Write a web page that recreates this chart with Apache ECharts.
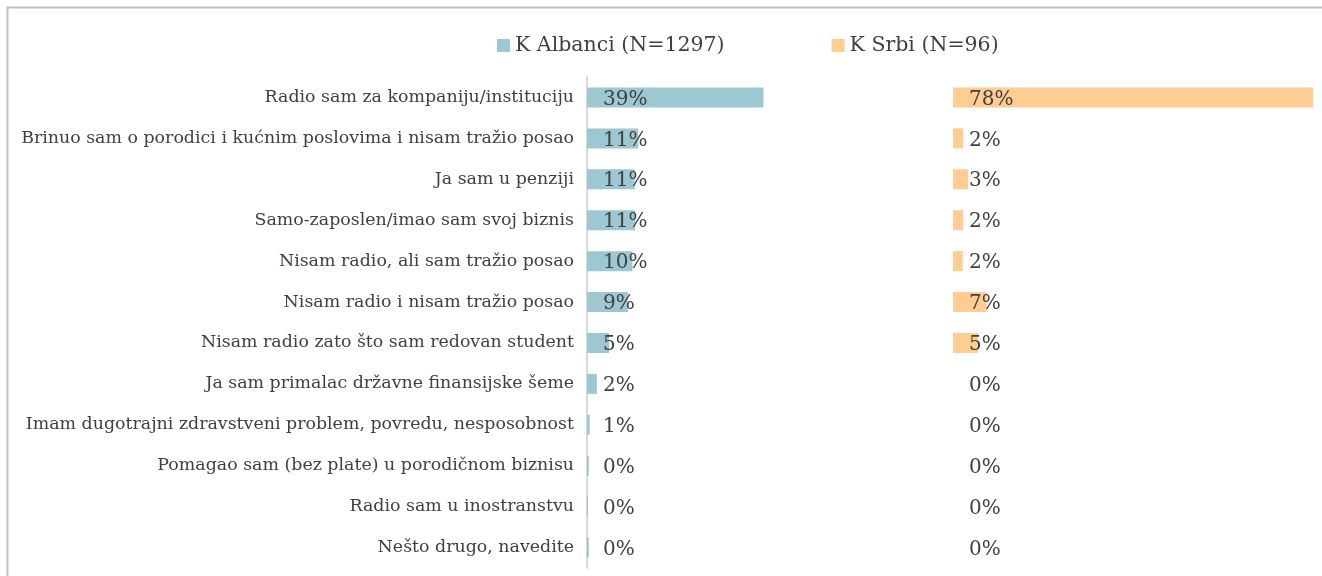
<!DOCTYPE html>
<html>
<head>
<meta charset="utf-8">
<script src="https://cdn.jsdelivr.net/npm/echarts@6/dist/echarts.min.js"></script>
<style>
  html, body { margin: 0; padding: 0; background: #fff; }
  #chart { width: 1322px; height: 576px; }
</style>
</head>
<body>
<div id="chart"></div>
<script>
// categories, top to bottom
const categories = [
    'Radio sam za kompaniju/instituciju',
    'Brinuo sam o porodici i kućnim poslovima i nisam tražio posao',
    'Ja sam u penziji',
    'Samo-zaposlen/imao sam svoj biznis',
    'Nisam radio, ali sam tražio posao',
    'Nisam radio i nisam tražio posao',
    'Nisam radio zato što sam redovan student',
    'Ja sam primalac državne finansijske šeme',
    'Imam dugotrajni zdravstveni problem, povredu, nesposobnost',
    'Pomagao sam (bez plate) u porodičnom biznisu',
    'Radio sam u inostranstvu',
    'Nešto drugo, navedite'
];
const albanciName = 'K Albanci (N=1297)';
const srbiName = 'K Srbi (N=96)';
const albanciValues = [39.2, 11.4, 10.6, 10.7, 10.1, 9.1, 4.9, 2.2, 0.6, 0.4, 0.2, 0.4];
const srbiValues = [78.1, 2.2, 3.3, 2.2, 2.1, 7.3, 5.4, 0, 0, 0, 0, 0];

const font = '"DejaVu Serif", "Liberation Serif", serif';
const textColor = '#404040';

const chart = echarts.init(document.getElementById('chart'));

function valueLabel() {
    return {
        show: true,
        position: [16, '50%'],
        offset: [0, 2],
        verticalAlign: 'middle',
        align: 'left',
        fontFamily: font,
        fontSize: 20,
        color: textColor,
        formatter: (p) => Math.round(p.value) + '%'
    };
}

chart.setOption({
    animation: false,
    textStyle: { fontFamily: font },
    graphic: [{
        type: 'rect',
        shape: { x: 7.5, y: 7.5, width: 1400, height: 700 },
        style: { fill: 'none', stroke: '#c0c0c0', lineWidth: 2 },
        silent: true
    }],
    legend: {
        left: 492,
        top: 30,
        itemWidth: 13,
        itemHeight: 13,
        itemGap: 107,
        icon: 'rect',
        textStyle: { fontFamily: font, fontSize: 20.5, color: textColor },
        data: [albanciName, srbiName]
    },
    grid: [
        { left: 587, width: 360, top: 77, height: 491 },
        { left: 953, width: 369, top: 77, height: 491 }
    ],
    xAxis: [
        { gridIndex: 0, type: 'value', min: 0, max: 80, show: false },
        { gridIndex: 1, type: 'value', min: 0, max: 80, show: false }
    ],
    yAxis: [
        {
            gridIndex: 0,
            type: 'category',
            inverse: true,
            data: categories,
            axisLine: { show: true, lineStyle: { color: '#d9d9d9', width: 2 } },
            axisTick: { show: false },
            axisLabel: { fontFamily: font, fontSize: 17.4, color: textColor, margin: 13 }
        },
        {
            gridIndex: 1,
            type: 'category',
            inverse: true,
            data: categories,
            axisLine: { show: false },
            axisTick: { show: false },
            axisLabel: { show: false }
        }
    ],
    series: [
        {
            name: albanciName,
            type: 'bar',
            xAxisIndex: 0,
            yAxisIndex: 0,
            barWidth: 20,
            itemStyle: { color: '#9dc7d1' },
            label: valueLabel(),
            data: albanciValues
        },
        {
            name: srbiName,
            type: 'bar',
            xAxisIndex: 1,
            yAxisIndex: 1,
            barWidth: 20,
            itemStyle: { color: '#ffcd91' },
            label: valueLabel(),
            data: srbiValues
        }
    ]
});
</script>
</body>
</html>
